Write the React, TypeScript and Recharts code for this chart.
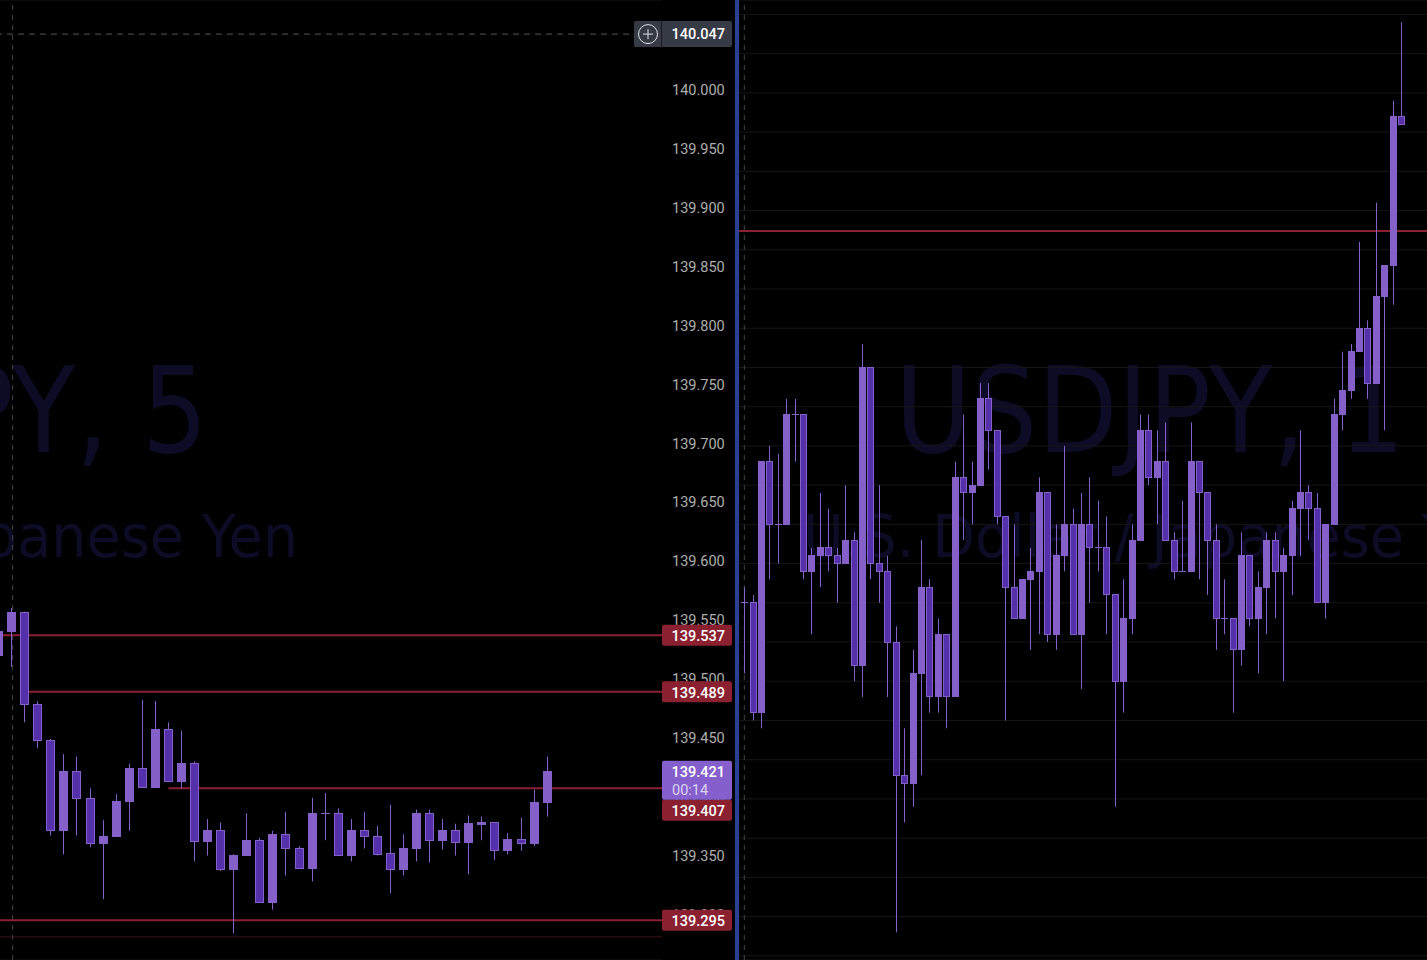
import { BarChart, Bar, XAxis, YAxis, CartesianGrid, ReferenceLine } from "recharts";

const FONT = "Roboto, sans-serif";
const UP = "#8660c9";
const DOWN = "#5430aa";
const LEVEL = "#8a2030";

// 5 minute pane, first entry is the candle cut off by the left edge
const leftOpen = [
    139.520, 139.540, 139.556, 139.478, 139.448, 139.371, 139.421, 139.398, 139.360, 139.366, 139.396, 139.424, 139.408, 139.457,
    139.413, 139.428, 139.362, 139.371, 139.338, 139.350, 139.363, 139.310, 139.368, 139.356, 139.339, 139.386, 139.386, 139.350,
    139.371, 139.366, 139.352, 139.338, 139.356, 139.386, 139.363, 139.371, 139.361, 139.376, 139.378, 139.354, 139.364, 139.360, 139.395,
];
const leftHigh = [
    139.545, 139.560, 139.557, 139.481, 139.449, 139.436, 139.434, 139.407, 139.380, 139.402, 139.428, 139.482, 139.481, 139.463,
    139.456, 139.430, 139.381, 139.378, 139.351, 139.386, 139.365, 139.371, 139.387, 139.358, 139.399, 139.403, 139.390, 139.381,
    139.387, 139.375, 139.393, 139.368, 139.389, 139.389, 139.381, 139.377, 139.384, 139.383, 139.378, 139.369, 139.382, 139.406, 139.434,
];
const leftLow = [
    139.515, 139.510, 139.463, 139.441, 139.367, 139.351, 139.367, 139.357, 139.313, 139.366, 139.371, 139.408, 139.408, 139.413,
    139.407, 139.345, 139.350, 139.337, 139.284, 139.350, 139.310, 139.304, 139.333, 139.339, 139.328, 139.363, 139.350, 139.345,
    139.356, 139.350, 139.318, 139.333, 139.345, 139.344, 139.355, 139.350, 139.334, 139.363, 139.346, 139.351, 139.354, 139.358, 139.383,
];
const leftClose = [
    139.540, 139.556, 139.478, 139.448, 139.371, 139.421, 139.398, 139.360, 139.366, 139.396, 139.424, 139.408, 139.457, 139.413,
    139.428, 139.362, 139.371, 139.338, 139.350, 139.363, 139.310, 139.368, 139.356, 139.339, 139.386, 139.386, 139.350, 139.371,
    139.366, 139.351, 139.338, 139.356, 139.386, 139.363, 139.371, 139.361, 139.377, 139.378, 139.354, 139.364, 139.360, 139.395, 139.421,
];

// 1 minute pane
const rightOpen = [
    139.360, 139.360, 139.346, 139.378, 139.370, 139.370, 139.384, 139.384, 139.364, 139.366,
    139.367, 139.366, 139.365, 139.368, 139.352, 139.390, 139.365, 139.364, 139.355, 139.338,
    139.337, 139.351, 139.362, 139.348, 139.356, 139.348, 139.376, 139.374, 139.375, 139.386,
    139.382, 139.371, 139.362, 139.358, 139.363, 139.364, 139.374, 139.356, 139.366, 139.370,
    139.356, 139.370, 139.367, 139.367, 139.361, 139.350, 139.358, 139.368, 139.382, 139.376,
    139.378, 139.368, 139.364, 139.364, 139.378, 139.374, 139.368, 139.358, 139.358, 139.354,
    139.366, 139.358, 139.362, 139.368, 139.364, 139.366, 139.372, 139.374, 139.372, 139.360,
    139.370, 139.384, 139.387, 139.392, 139.395, 139.388, 139.399, 139.403, 139.422,
];
const rightHigh = [
    139.362, 139.361, 139.378, 139.380, 139.379, 139.386, 139.386, 139.384, 139.367, 139.374,
    139.372, 139.367, 139.375, 139.369, 139.393, 139.390, 139.375, 139.366, 139.357, 139.344,
    139.354, 139.368, 139.363, 139.358, 139.356, 139.378, 139.384, 139.378, 139.388, 139.388,
    139.382, 139.371, 139.370, 139.363, 139.367, 139.376, 139.374, 139.370, 139.380, 139.372,
    139.374, 139.376, 139.373, 139.371, 139.361, 139.363, 139.370, 139.384, 139.384, 139.382,
    139.383, 139.369, 139.373, 139.383, 139.378, 139.374, 139.370, 139.363, 139.358, 139.369,
    139.366, 139.364, 139.369, 139.369, 139.367, 139.373, 139.382, 139.375, 139.374, 139.370,
    139.386, 139.392, 139.393, 139.406, 139.396, 139.411, 139.403, 139.424, 139.434,
];
const rightLow = [
    139.351, 139.345, 139.344, 139.363, 139.365, 139.370, 139.378, 139.363, 139.356, 139.362,
    139.364, 139.360, 139.365, 139.350, 139.348, 139.363, 139.360, 139.348, 139.318, 139.332,
    139.334, 139.338, 139.346, 139.346, 139.344, 139.348, 139.368, 139.370, 139.375, 139.377,
    139.370, 139.345, 139.358, 139.358, 139.354, 139.356, 139.355, 139.354, 139.364, 139.356,
    139.349, 139.360, 139.364, 139.356, 139.334, 139.346, 139.356, 139.368, 139.375, 139.370,
    139.368, 139.363, 139.364, 139.364, 139.363, 139.361, 139.354, 139.356, 139.346, 139.352,
    139.357, 139.351, 139.356, 139.358, 139.350, 139.361, 139.366, 139.368, 139.360, 139.358,
    139.370, 139.382, 139.386, 139.392, 139.386, 139.388, 139.382, 139.398, 139.421,
];
const rightClose = [
    139.360, 139.346, 139.378, 139.370, 139.370, 139.384, 139.384, 139.364, 139.366, 139.367,
    139.366, 139.365, 139.368, 139.352, 139.390, 139.365, 139.364, 139.355, 139.338, 139.337,
    139.351, 139.362, 139.348, 139.356, 139.348, 139.376, 139.374, 139.375, 139.386, 139.382,
    139.371, 139.362, 139.358, 139.363, 139.364, 139.374, 139.356, 139.366, 139.370, 139.356,
    139.370, 139.367, 139.367, 139.361, 139.350, 139.358, 139.368, 139.382, 139.376, 139.378,
    139.368, 139.364, 139.364, 139.378, 139.374, 139.368, 139.358, 139.358, 139.354, 139.366,
    139.358, 139.362, 139.368, 139.364, 139.366, 139.372, 139.374, 139.372, 139.360, 139.370,
    139.384, 139.387, 139.392, 139.395, 139.388, 139.399, 139.403, 139.422, 139.421,
];

const leftTicks = [
    140.05, 140.0, 139.95, 139.9, 139.85, 139.8, 139.75, 139.7, 139.65, 139.6, 139.55, 139.5, 139.45, 139.4, 139.35, 139.3,
];
const rightTicks = [
    139.435, 139.43, 139.425, 139.42, 139.415, 139.41, 139.405, 139.4, 139.395, 139.39, 139.385, 139.38, 139.375,
    139.37, 139.365, 139.36, 139.355, 139.35, 139.345, 139.34, 139.335, 139.33, 139.325, 139.32, 139.315,
];

const LEFT_DOMAIN_X = [-0.896, 49.79];
const LEFT_DOMAIN_Y = [139.26135, 140.07594];
const RIGHT_DOMAIN_X = [-0.63, 81.05];
const RIGHT_DOMAIN_Y = [139.31447, 139.43684];

const levelPrices = [139.537, 139.489, 139.407, 139.295];
const levelStarts = [LEFT_DOMAIN_X[0], 1, 12, LEFT_DOMAIN_X[0]];
const levelTagShift = [0, 0, 22, 0];
const rightLevel = 139.40738;
const faintLevel = 139.281;
const crosshairPrice = 140.047;
const lastPrice = 139.421;
const countdown = "00:14";

function toRows(open: number[], high: number[], low: number[], close: number[], first: number) {
    return open.map((o, i) => ({ t: i + first, open: o, high: high[i], low: low[i], close: close[i] }));
}

const leftRows = toRows(leftOpen, leftHigh, leftLow, leftClose, -1);
const rightRows = toRows(rightOpen, rightHigh, rightLow, rightClose, 0);

function Candle(props: any) {
    const { x, y, width, height, payload } = props;
    const k = height / (payload.high - payload.low);
    const toY = (p: number) => y + (payload.high - p) * k;
    const snap = (v: number) => Math.floor(v) + 0.5;
    const cx = snap(x + width / 2);
    const half = (width - 1) / 2;
    const isUp = payload.close >= payload.open;
    const top = snap(toY(Math.max(payload.open, payload.close)));
    const bottom = snap(toY(Math.min(payload.open, payload.close)));
    return (
        <g>
            <line x1={cx} x2={cx} y1={y} y2={y + height} stroke={UP} strokeWidth={1} />
            {bottom > top ? (
                <rect x={cx - half} y={top} width={half * 2} height={bottom - top} fill={isUp ? UP : DOWN} stroke={UP} strokeWidth={1} />
            ) : (
                <line x1={cx - half - 0.5} x2={cx + half + 0.5} y1={top} y2={top} stroke={UP} strokeWidth={1} />
            )}
        </g>
    );
}

function AxisTick({ x, y, payload }: any) {
    return (
        <text x={x} y={y + 5.5} fontFamily={FONT} fontSize={14.5} fill="#aeaeae">
            {payload.value.toFixed(3)}
        </text>
    );
}

// the axis sits on the right, so the line runs from x1 (right) to x2 (left)
const edge = (p: any) => Math.max(p.x1, p.x2);

function levelTag(price: number, shift: number) {
    return (p: any) => (
        <g>
            <rect x={edge(p)} y={p.y1 + shift - 10.5} width={70} height={21} rx={2} fill={LEVEL} />
            <text x={edge(p) + 63} y={p.y1 + shift + 6} textAnchor="end" fontFamily={FONT} fontSize={14.5} fontWeight={500} fill="#fff">
                {price.toFixed(3)}
            </text>
        </g>
    );
}

function lastPriceTag(p: any) {
    return (
        <g>
            <rect x={edge(p)} y={p.y1 - 11} width={70} height={39} rx={2} fill="#8560cc" />
            <text x={edge(p) + 63} y={p.y1 + 5} textAnchor="end" fontFamily={FONT} fontSize={14.5} fontWeight={500} fill="#fff">
                {lastPrice.toFixed(3)}
            </text>
            <text x={edge(p) + 10} y={p.y1 + 23} fontFamily={FONT} fontSize={14.5} fill="#dcd3f2">
                {countdown}
            </text>
        </g>
    );
}

function crosshairTag(p: any) {
    const right = edge(p);
    const left = right - 28;
    const cy = p.y1;
    return (
        <g>
            <rect x={left} y={cy - 13} width={98} height={26} rx={2} fill="#363a45" />
            <line x1={right - 0.5} x2={right - 0.5} y1={cy - 13} y2={cy + 13} stroke="#16181d" />
            <circle cx={left + 14} cy={cy} r={9.5} fill="none" stroke="#dfe1e6" strokeWidth={1} />
            <line x1={left + 9} x2={left + 19} y1={cy} y2={cy} stroke="#dfe1e6" />
            <line x1={left + 14} x2={left + 14} y1={cy - 5} y2={cy + 5} stroke="#dfe1e6" />
            <text x={right + 63} y={cy + 5} textAnchor="end" fontFamily={FONT} fontSize={14.5} fontWeight={500} fill="#fff">
                {crosshairPrice.toFixed(3)}
            </text>
        </g>
    );
}

function Watermark({ items }: { items: { text: string; x: number; y: number; size: number; length: number }[] }) {
    return (
        <svg width={1427} height={960} style={{ position: "absolute", left: 0, top: 0 }}>
            {items.map((w) => (
                <text key={w.x} x={w.x} y={w.y} fontFamily="DejaVu Sans" fontSize={w.size} fill="#0e0b26" textLength={w.length} lengthAdjust="spacingAndGlyphs">
                    {w.text}
                </text>
            ))}
        </svg>
    );
}

const layer = { position: "absolute", left: 0, top: 0 } as const;
const noMargin = { top: 0, right: 0, bottom: 0, left: 0 };

// Recharts paints reference lines and axes over the bars, so each pane is three
// stacked charts sharing one scale: lines, then candles and ticks, then price tags.
function LeftPane() {
    const axes = (tick: any) => [
        <XAxis key="x" type="number" dataKey="t" domain={LEFT_DOMAIN_X} allowDataOverflow hide />,
        <YAxis
            key="y"
            orientation="right"
            width={73}
            domain={LEFT_DOMAIN_Y}
            allowDataOverflow
            ticks={leftTicks}
            interval={0}
            tickLine={false}
            axisLine={false}
            tickMargin={4}
            tick={tick}
        />,
    ];
    return (
        <>
            <div style={layer}>
                <BarChart width={735} height={960} data={leftRows} margin={noMargin}>
                    <CartesianGrid vertical={false} stroke="#161616" />
                    {axes(false)}
                    <ReferenceLine y={faintLevel} stroke="#3a1219" />
                    <ReferenceLine x={0.07} stroke="#444" strokeDasharray="5 5" />
                    <ReferenceLine y={crosshairPrice} stroke="#555" strokeDasharray="6 5" />
                    {levelPrices.map((price, i) => (
                        <ReferenceLine
                            key={price}
                            segment={[
                                { x: levelStarts[i], y: price },
                                { x: LEFT_DOMAIN_X[1], y: price },
                            ]}
                            stroke={LEVEL}
                            strokeWidth={2}
                        />
                    ))}
                </BarChart>
            </div>
            <div style={layer}>
                <BarChart width={735} height={960} data={leftRows} margin={noMargin}>
                    {axes(AxisTick)}
                    <Bar dataKey={(d: any) => [d.low, d.high]} barSize={9} shape={Candle} isAnimationActive={false} />
                </BarChart>
            </div>
            <div style={layer}>
                <BarChart width={735} height={960} data={leftRows} margin={noMargin}>
                    {axes(false)}
                    {levelPrices.map((price, i) => (
                        <ReferenceLine key={price} y={price} stroke="none" shape={levelTag(price, levelTagShift[i])} />
                    ))}
                    <ReferenceLine y={lastPrice} stroke="none" shape={lastPriceTag} />
                    <ReferenceLine y={crosshairPrice} stroke="none" shape={crosshairTag} />
                </BarChart>
            </div>
        </>
    );
}

function RightPane() {
    const axes = [
        <XAxis key="x" type="number" dataKey="t" domain={RIGHT_DOMAIN_X} allowDataOverflow hide />,
        <YAxis key="y" hide domain={RIGHT_DOMAIN_Y} allowDataOverflow ticks={rightTicks} interval={0} />,
    ];
    return (
        <>
            <div style={layer}>
                <BarChart width={688} height={960} data={rightRows} margin={noMargin}>
                    <CartesianGrid vertical={false} stroke="#161616" />
                    {axes}
                    <ReferenceLine x={0} stroke="#444" strokeDasharray="5 5" />
                    <ReferenceLine y={rightLevel} stroke={LEVEL} strokeWidth={2} />
                </BarChart>
            </div>
            <div style={layer}>
                <BarChart width={688} height={960} data={rightRows} margin={noMargin}>
                    {axes}
                    <Bar dataKey={(d: any) => [d.low, d.high]} barSize={7} shape={Candle} isAnimationActive={false} />
                </BarChart>
            </div>
        </>
    );
}

export default function App() {
    return (
        <div style={{ position: "absolute", left: 0, top: 0, width: 1427, height: 960, background: "#000", overflow: "hidden" }}>
            <Watermark
                items={[
                    { text: "USDJPY, 5", x: -302, y: 452, size: 119, length: 510 },
                    { text: "U.S. Dollar / Japanese Yen", x: -417, y: 557, size: 58, length: 715 },
                    { text: "USDJPY, 1", x: 895, y: 452, size: 119, length: 510 },
                    { text: "U.S. Dollar / Japanese Yen", x: 803, y: 557, size: 58, length: 715 },
                ]}
            />
            <LeftPane />
            <div style={{ position: "absolute", left: 735, top: 0, width: 4, height: 960, background: "#2b3f93" }} />
            <div style={{ position: "absolute", left: 739, top: 0 }}>
                <RightPane />
            </div>
        </div>
    );
}
